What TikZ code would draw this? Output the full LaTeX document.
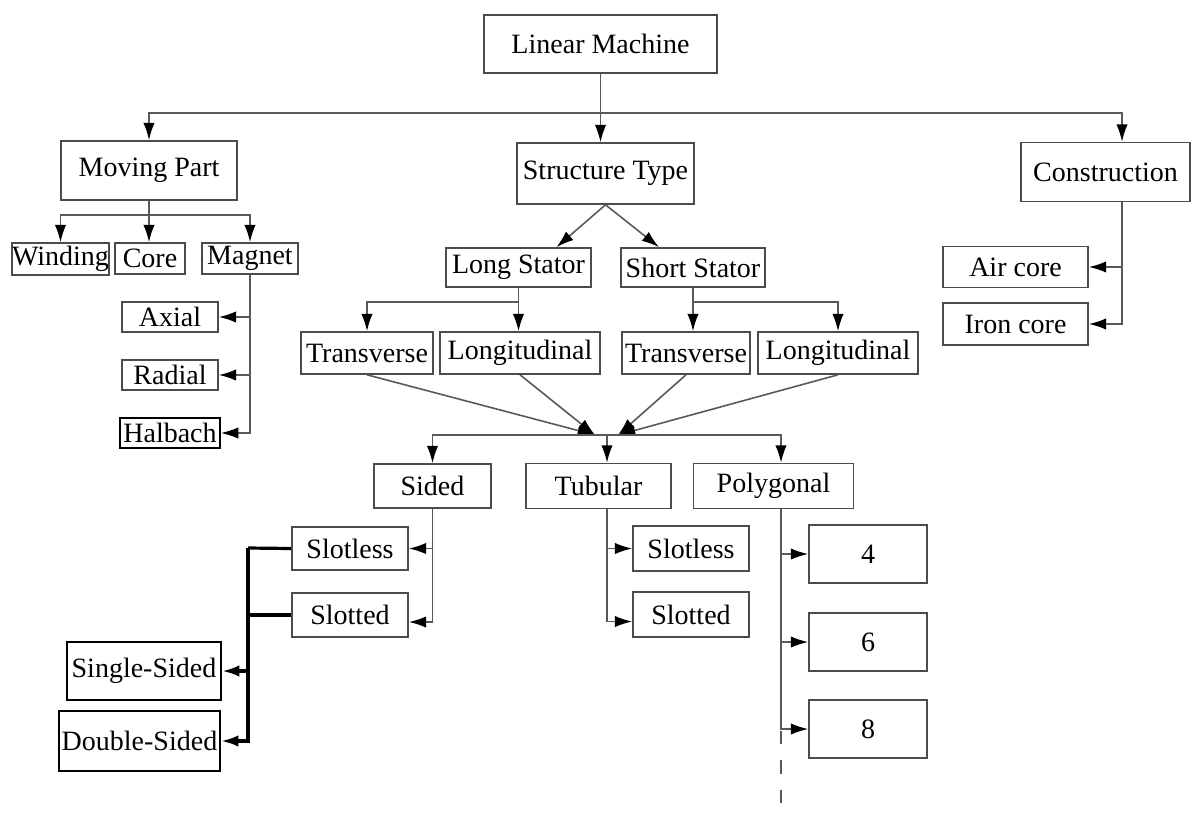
\documentclass[tikz,border=0pt]{standalone}
\usepackage{fontspec}
\setmainfont{Liberation Serif}
\usetikzlibrary{arrows.meta,calc}

\begin{document}
\begin{tikzpicture}[x=0.75pt, y=-0.75pt,
        >={Latex[length=13pt,width=8.5pt,color=black]},
        every node/.style={font=\fontsize{21}{23}\selectfont, text=black},
        box/.style 2 args={draw=black!70, line width=1.2pt, inner sep=0pt,
            minimum width=#1*0.75pt, minimum height=#2*0.75pt},
        darkbox/.style={draw=black, line width=1.4pt},
        link/.style={draw=black!65, line width=1.2pt},
        heavy/.style={draw=black, line width=2.4pt}]
            \useasboundingbox (0,0) rectangle (1201,814);
            % boxes
            \node[box={233}{58}] (lm) at (600.5,44) {Linear Machine};
            \node[box={176}{59}] (mp) at (149,170.5) {Moving Part};
            \node[box={177}{61}] (st) at (605.5,173.5) {Structure Type};
            \node[box={169}{59}] (con) at (1105.5,172) {Construction};
            \node[box={95}{32}] (wind) at (60.5,259) {Winding};
            \node[box={70}{31}] (core) at (150,258.5) {Core};
            \node[box={96}{31}] (mag) at (250,258.5) {Magnet};
            \node[box={96}{30}] (axial) at (170,317) {Axial};
            \node[box={96}{30}] (radial) at (170,375) {Radial};
            \node[box={100}{30}, darkbox] (halb) at (170,433) {Halbach};
            \node[box={145}{39}] (ls) at (518.5,267.5) {Long Stator};
            \node[box={144}{39}] (ss) at (693,267.5) {Short Stator};
            \node[box={132}{42}] (tr1) at (367,353) {Transverse};
            \node[box={160}{42}] (lo1) at (520,353) {Longitudinal};
            \node[box={128}{42}] (tr2) at (686,353) {Transverse};
            \node[box={160}{42}] (lo2) at (838,353) {Longitudinal};
            \node[box={117}{44}] (sided) at (432.5,486) {Sided};
            \node[box={145}{45}] (tub) at (598.5,486) {Tubular};
            \node[box={160}{45}] (poly) at (773.5,486) {Polygonal};
            \node[box={116}{43}] (lslotless) at (350,548.5) {Slotless};
            \node[box={116}{44}] (lslotted) at (350,615) {Slotted};
            \node[box={154}{58}, darkbox] (single) at (144,671) {Single-Sided};
            \node[box={161}{60}, darkbox] (double) at (139.5,741) {Double-Sided};
            \node[box={116}{45}] (tslotless) at (691,548.5) {Slotless};
            \node[box={116}{45}] (tslotted) at (691,614.5) {Slotted};
            \node[box={118}{58}] (p4) at (868,554) {4};
            \node[box={118}{58}] (p6) at (868,642) {6};
            \node[box={118}{58}] (p8) at (868,729) {8};
            \node[box={145}{41}] (air) at (1015.5,267) {Air core};
            \node[box={145}{42}] (iron) at (1015.5,324) {Iron core};
            % trunks and hubs
            \coordinate (topbar) at (0,113);
            \coordinate (conx) at (1122,113);
            \coordinate (mpbar) at (0,215);
            \coordinate (lsbar) at (0,302);
            \coordinate (hubl) at (595,435);
            \coordinate (hubr) at (618,435);
            \coordinate (tubx) at (607,0);
            \coordinate (polyx) at (781,435);
            \coordinate (sdx) at (248,548);
            \coordinate (polyend) at (781,814);
            % top level
            \draw[link, ->] (lm.south) -- (lm.south |- st.north);
            \draw[link, ->] (lm.south |- topbar) -| (mp.north);
            \draw[link, ->] (lm.south |- topbar) -- (conx) -- (con.north -| conx);
            % moving part
            \draw[link, ->] (mp.south) -- (mp.south |- core.north);
            \draw[link, ->] (mp.south |- mpbar) -| (wind.north);
            \draw[link, ->] (mp.south |- mpbar) -| (mag.north);
            \draw[link, ->] (mag.south) |- (halb.east);
            \draw[link, ->] (mag.south |- axial.east) -- (axial.east);
            \draw[link, ->] (mag.south |- radial.east) -- (radial.east);
            % construction
            \draw[link, ->] (con.south -| conx) |- (iron.east);
            \draw[link, ->] (air.east -| conx) -- (air.east);
            % structure type
            \draw[link, ->] (st.south) -- ($(ls.north)+(38,0)$);
            \draw[link, ->] (st.south) -- ($(ss.north)+(-34,0)$);
            \draw[link, ->] (ls.south) -- (ls.south |- lo1.north);
            \draw[link, ->] (ls.south |- lsbar) -| (tr1.north);
            \draw[link, ->] (ss.south) -- (ss.south |- tr2.north);
            \draw[link, ->] (ss.south |- lsbar) -| (lo2.north);
            \draw[link, ->] (tr1.south) -- (hubl);
            \draw[link, ->] (lo1.south) -- (hubl);
            \draw[link, ->] (tr2.south) -- (hubr);
            \draw[link, ->] (lo2.south) -- (hubr);
            \draw[link, ->] (hubl) -| (sided.north);
            \draw[link, ->] (hubr) -- (polyx) -- (poly.north -| polyx);
            \draw[link] (hubl) -- (hubr);
            \draw[link, ->] (hubl -| tubx) -- (tub.north -| tubx);
            % sided
            \draw[link, ->] (sided.south) |- ($(lslotted.east)+(0,7)$);
            \draw[link, ->] (sided.south |- lslotless.east) -- (lslotless.east);
            \draw[heavy] (lslotless.west) -- (sdx);
            \draw[heavy] (lslotted.west) -- (sdx |- lslotted.west);
            \draw[heavy, ->] (sdx) |- (double.east);
            \draw[heavy, ->] (sdx |- single.east) -- (single.east);
            % tubular
            \draw[link, ->] (tub.south -| tubx) |- ($(tslotted.west)+(0,7)$);
            \draw[link, ->] (tslotless.west -| tubx) -- (tslotless.west);
            % polygonal
            \draw[link, ->] (poly.south -| polyx) |- (p8.west);
            \draw[link, ->] (p4.west -| polyx) -- (p4.west);
            \draw[link, ->] (p6.west -| polyx) -- (p6.west);
            \draw[link, dash pattern=on 10pt off 12pt] ($(p8.west -| polyx)+(0,2)$) -- (polyend);
        \end{tikzpicture}
\end{document}
